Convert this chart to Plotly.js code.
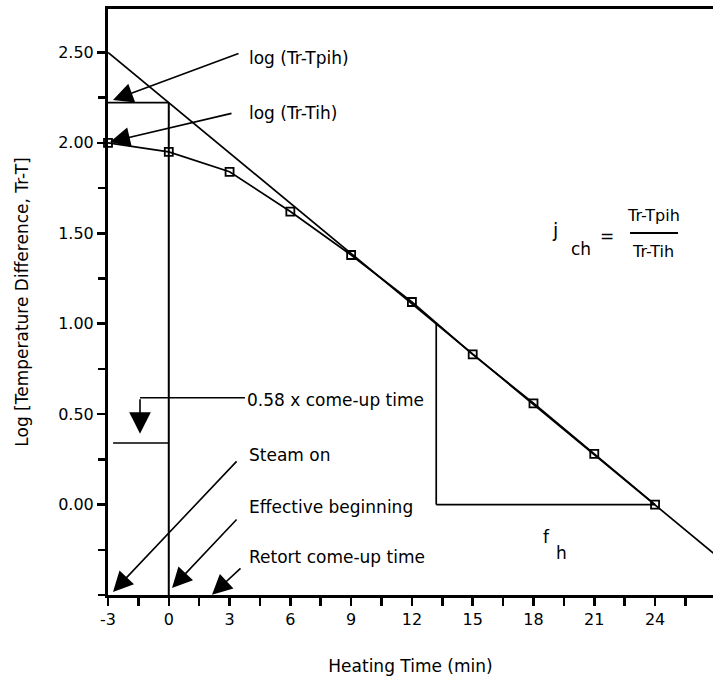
<!DOCTYPE html>
<html>
<head>
<meta charset="utf-8">
<script src="https://cdn.plot.ly/plotly-3.0.1.min.js"></script>
<style>html,body{margin:0;padding:0;background:#fff;}#chart{width:713px;height:686px;}</style>
</head>
<body>
<div id="chart"></div>
<script>
// Heating curve (measured points)
const heatTime = [-3, 0, 3, 6, 9, 12, 15, 18, 21, 24];
const heatLog  = [2.00, 1.95, 1.84, 1.62, 1.38, 1.12, 0.83, 0.56, 0.28, 0.00];
// Straight-line (asymptote) portion
const asymTime = [-3, 27];
const asymLog  = [2.50, -0.28];
// Construction values
const tpihLog = 2.222;       // log(Tr-Tpih) intercept at effective beginning
const fhStartTime = 13.2;    // one log-cycle start
const fhStartLog = 1.00;
const fhEndTime = 24;
const fhEndLog = 0.00;
// Axis ticks
const xTicks = [-3, 0, 3, 6, 9, 12, 15, 18, 21, 24];
const yTicks = [0.0, 0.5, 1.0, 1.5, 2.0, 2.5];
const yTickText = ["0.00", "0.50", "1.00", "1.50", "2.00", "2.50"];

const FONT = "DejaVu Sans, Arial, sans-serif";
const K = "#000";
// plot area in pixels (for paper-referenced text)
const PL = 108, PR = 713, PT = 9, PB = 595;
const px2x = px => (px - PL) / (PR - PL);
const py2y = py => (PB - py) / (PB - PT);

const traces = [
  {x: asymTime, y: asymLog, mode: "lines", line: {color: K, width: 1.7}, hoverinfo: "skip", showlegend: false},
  {x: heatTime, y: heatLog, mode: "lines+markers",
   line: {color: K, width: 1.7},
   marker: {symbol: "square-open", size: 8, color: K, line: {width: 1.8, color: K}},
   showlegend: false, cliponaxis: false}
];

const shapes = [
  {type: "line", xref: "x", yref: "y", x0: -3, x1: 0, y0: tpihLog, y1: tpihLog, line: {color: K, width: 1.7}},
  {type: "line", xref: "x", yref: "y", x0: 0, x1: 0, y0: tpihLog, y1: -0.5, line: {color: K, width: 2}},
  {type: "line", xref: "x", yref: "y", x0: fhStartTime, x1: fhStartTime, y0: fhStartLog, y1: fhEndLog, line: {color: K, width: 1.7}},
  {type: "line", xref: "x", yref: "y", x0: fhStartTime, x1: fhEndTime, y0: fhEndLog, y1: fhEndLog, line: {color: K, width: 1.7}},
  {type: "line", xref: "x", yref: "y", x0: -1.42, x1: 3.76, y0: 0.59, y1: 0.59, line: {color: K, width: 1.5}},
  {type: "line", xref: "x", yref: "y", x0: -2.75, x1: 0, y0: 0.341, y1: 0.341, line: {color: K, width: 1.5}},
  // fraction bar of j_ch
  {type: "line", xref: "paper", yref: "paper", x0: px2x(630), x1: px2x(678), y0: py2y(233), y1: py2y(233), line: {color: K, width: 1.8}}
];

function txt(text, x, y, size) {
  return {text: text, x: x, y: y, xref: "x", yref: "y", showarrow: false,
    xanchor: "left", yanchor: "middle", font: {family: FONT, size: size || 17, color: K}};
}
function arr(xt, yt, xh, yh, sz) {
  return {text: "", x: xh, y: yh, ax: xt, ay: yt, xref: "x", yref: "y", axref: "x", ayref: "y",
    showarrow: true, arrowhead: 2, arrowsize: sz || 2.5, arrowwidth: 1.6, arrowcolor: K};
}
function pxAnn(text, px, py, size) {
  return {text: text, x: px2x(px), y: py2y(py), xref: "paper", yref: "paper", showarrow: false,
    xanchor: "center", yanchor: "middle", font: {family: FONT, size: size, color: K}};
}

const annotations = [
  txt("log (Tr-Tpih)", 3.86, 2.469),
  txt("log (Tr-Tih)", 3.86, 2.165),
  txt("0.58 x come-up time", 3.76, 0.579),
  txt("Steam on", 3.86, 0.275),
  txt("Effective beginning", 3.86, -0.013),
  txt("Retort come-up time", 3.86, -0.289),
  arr(3.515, 2.497, -2.753, 2.237),
  arr(3.17, 2.165, -2.90, 2.005),
  arr(-1.42, 0.59, -1.42, 0.391, 2.7),
  arr(3.417, 0.247, -2.753, -0.483),
  arr(3.417, -0.074, 0.159, -0.461),
  arr(3.614, -0.345, 2.133, -0.499),
  pxAnn("j", 555, 230, 19),
  pxAnn("ch", 581, 249, 17),
  pxAnn("=", 607, 236, 17),
  pxAnn("Tr-Tpih", 653, 215, 16),
  pxAnn("Tr-Tih", 653, 252, 16),
  pxAnn("f", 546, 537, 17),
  pxAnn("h", 561, 553, 17)
];

const layout = {
  width: 713, height: 686,
  margin: {l: PL, r: 713 - PR, t: PT, b: 686 - PB},
  paper_bgcolor: "#fff", plot_bgcolor: "#fff",
  font: {family: FONT, color: K, size: 16},
  showlegend: false,
  xaxis: {
    range: [-3, 26.86], showgrid: false, zeroline: false,
    showline: true, linewidth: 3, linecolor: K, mirror: true,
    tickmode: "array", tickvals: xTicks, ticktext: xTicks.map(String),
    ticks: "outside", ticklen: 8, tickwidth: 2.5, tickcolor: K,
    minor: {tickmode: "linear", tick0: -3, dtick: 1.5, ticks: "outside", ticklen: 8, tickwidth: 2.5, tickcolor: K, showgrid: false},
    tickfont: {family: FONT, size: 16, color: K},
    title: {text: "Heating Time (min)", font: {family: FONT, size: 17, color: K}, standoff: 32}
  },
  yaxis: {
    range: [-0.5, 2.74], showgrid: false, zeroline: false,
    showline: true, linewidth: 3, linecolor: K,
    tickmode: "array", tickvals: yTicks, ticktext: yTickText,
    ticks: "outside", ticklen: 8, tickwidth: 2.5, tickcolor: K,
    minor: {tickmode: "linear", tick0: 0, dtick: 0.25, ticks: "outside", ticklen: 7, tickwidth: 2.5, tickcolor: K, showgrid: false},
    tickfont: {family: FONT, size: 16, color: K},
    title: {text: "Log [Temperature Difference, Tr-T]", font: {family: FONT, size: 17, color: K}, standoff: 26}
  },
  shapes: shapes,
  annotations: annotations
};

Plotly.newPlot("chart", traces, layout, {displayModeBar: false, staticPlot: true});
</script>
</body>
</html>
